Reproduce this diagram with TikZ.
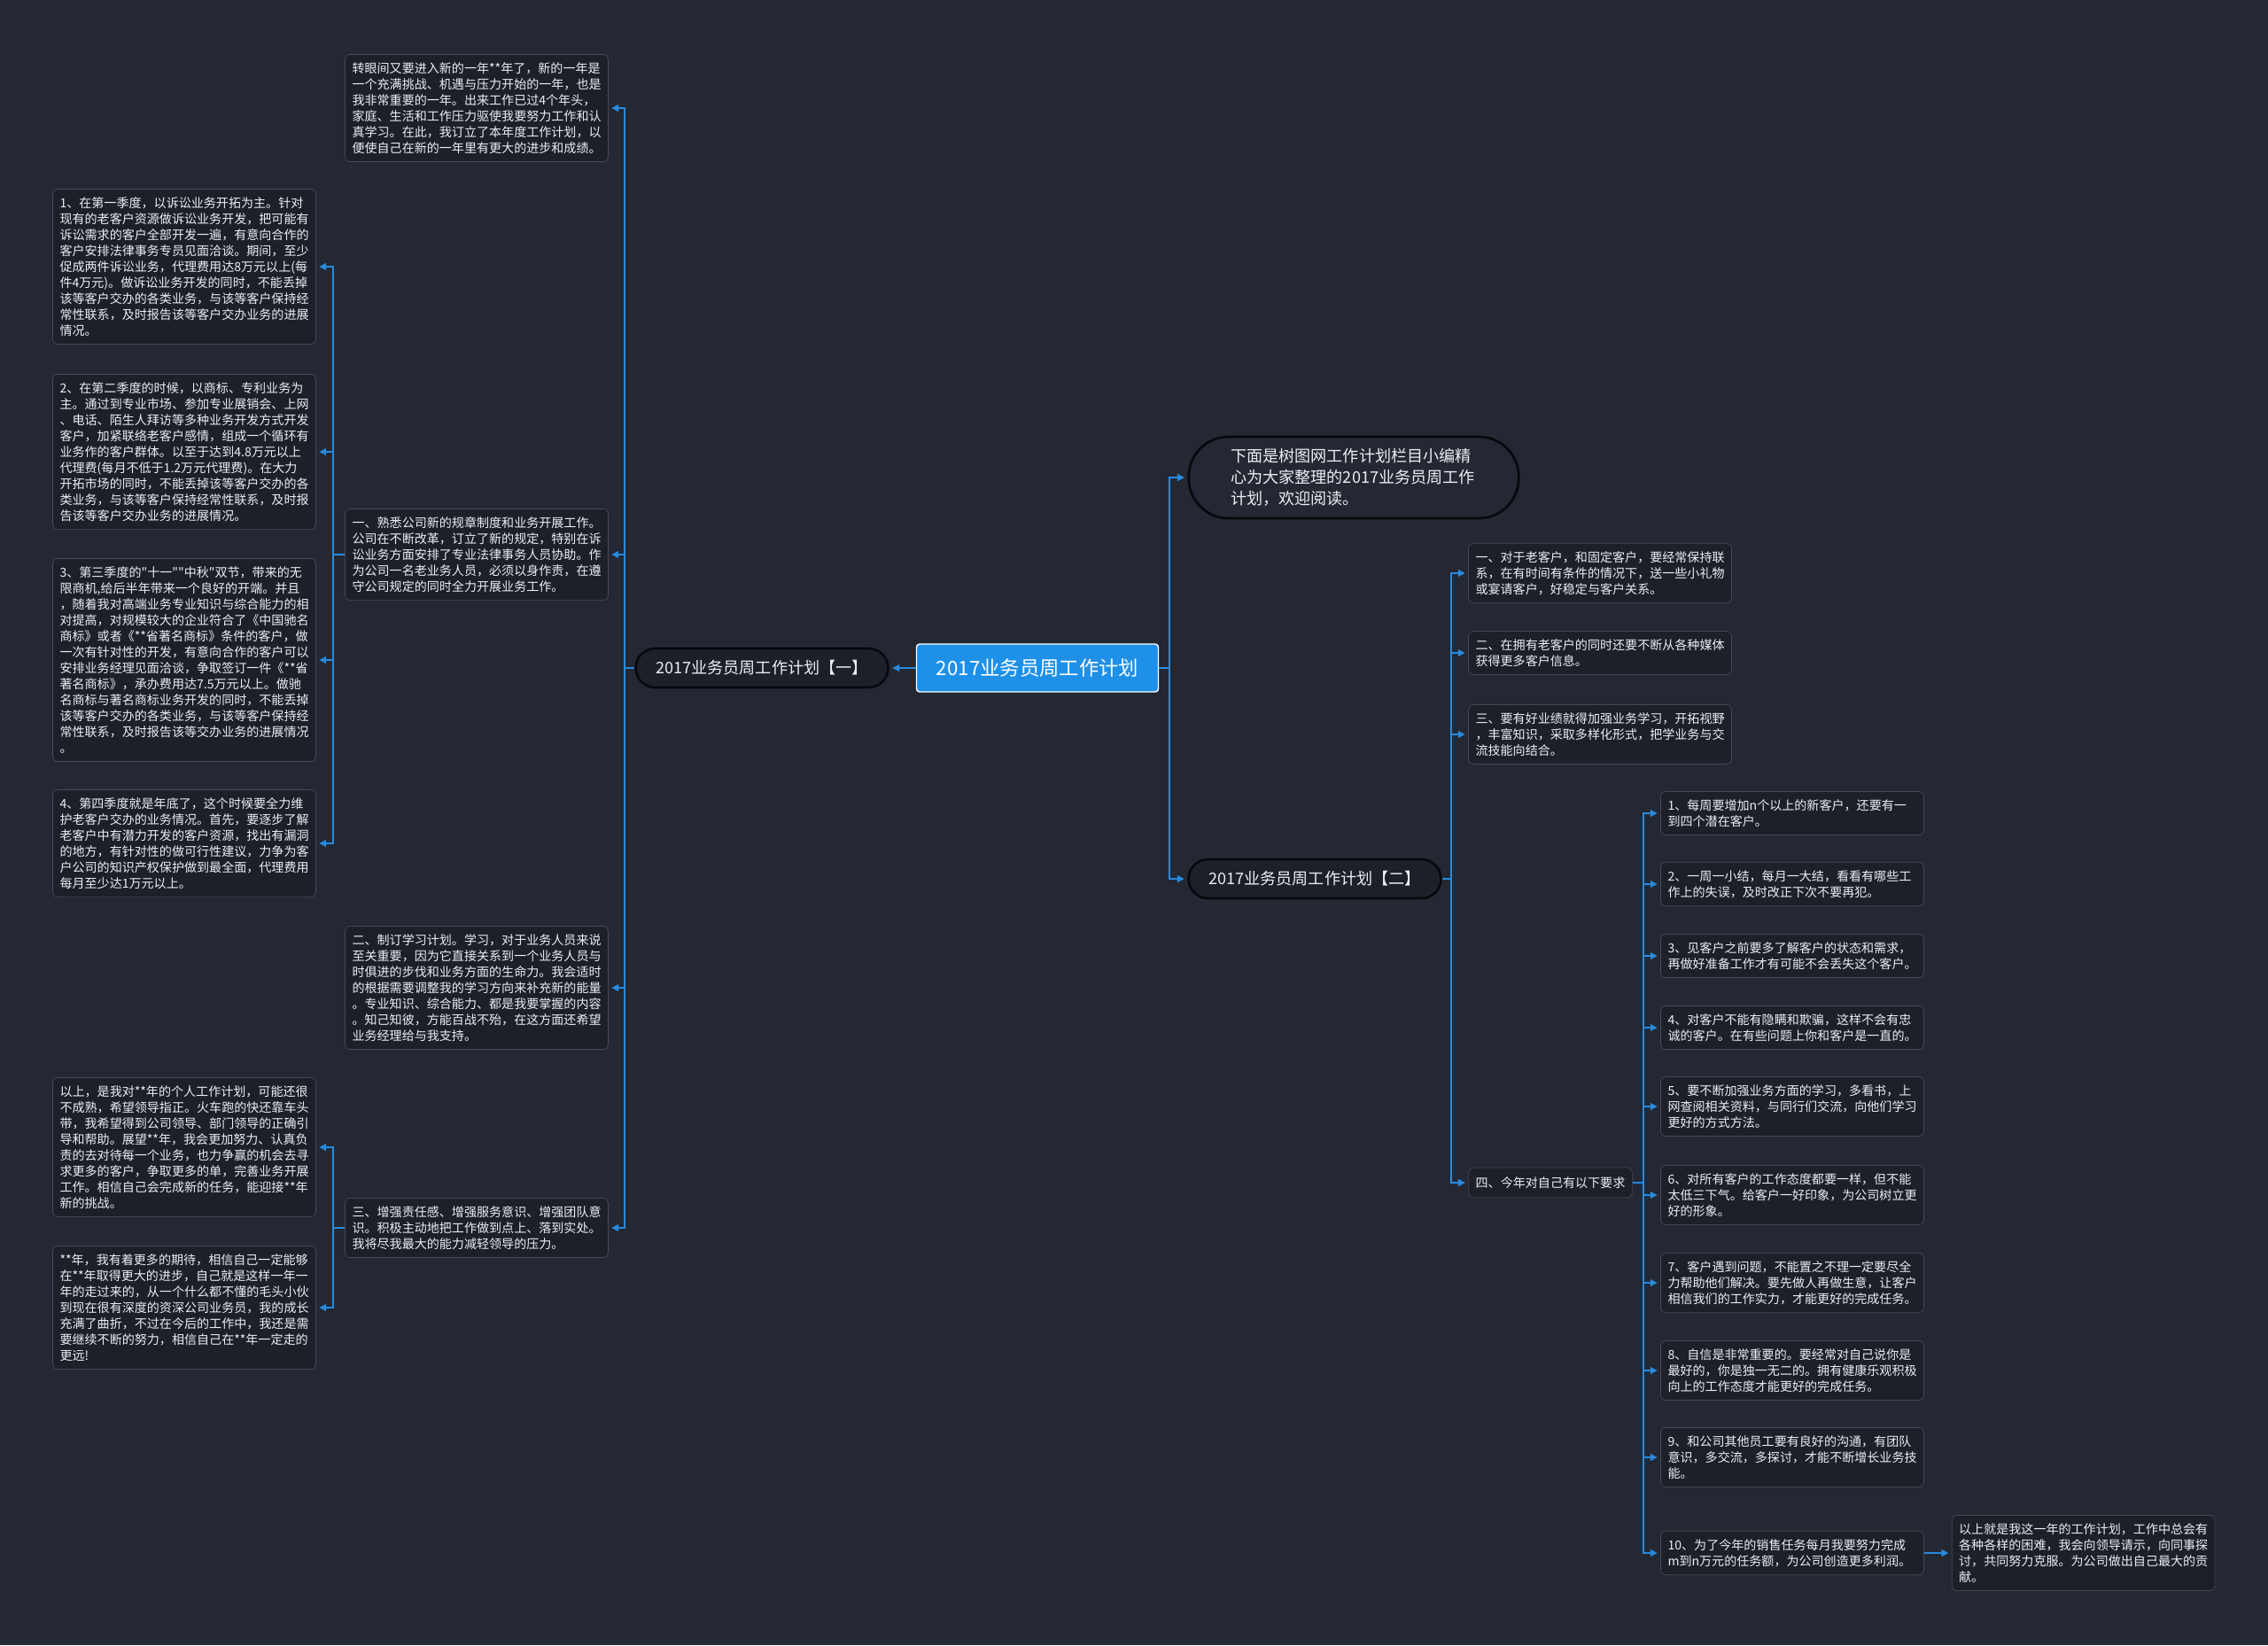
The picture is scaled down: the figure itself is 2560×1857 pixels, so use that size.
\documentclass[tikz,border=0pt]{standalone}
\usepackage{fontspec}
\setmainfont{Noto Sans CJK SC}[Ligatures=TeXOff]
\usetikzlibrary{arrows.meta,positioning}
\definecolor{mbg}{RGB}{36,40,51}
\definecolor{mbox}{RGB}{29,32,41}
\definecolor{mline}{RGB}{70,74,86}
\definecolor{mblue}{RGB}{40,138,222}
\definecolor{mroot}{RGB}{30,144,232}
\definecolor{mtext}{RGB}{236,238,242}
\definecolor{mdark}{RGB}{8,9,12}

\begin{document}
\begin{tikzpicture}[
    x=0.02cm, y=-0.02cm,
    leaf/.style={draw=mline, fill=mbox, rounded corners=3pt, text=mtext, align=left,
                 text width=5.62cm, inner xsep=0.16cm, inner ysep=0.18cm,
                 font=\fontsize{8}{10.25}\selectfont},
    short/.style={leaf, text width=, minimum height=0.68cm},
    branch/.style={draw=mdark, line width=1.5pt, fill=mbox, rounded corners=0.44cm,
                   text=mtext, minimum width=5.7cm, minimum height=0.88cm,
                   font=\fontsize{10.3}{12}\selectfont},
    root/.style={draw=white, line width=0.8pt, fill=mroot, rounded corners=2pt, text=white,
                 minimum width=5.46cm, minimum height=1.08cm, font=\fontsize{12.7}{15}\selectfont},
    note/.style={draw=mdark, line width=1.6pt, fill=mbg, rounded corners=0.9cm, text=mtext,
                 align=left, text width=5.55cm, inner xsep=0.95cm, inner ysep=0.25cm,
                 minimum height=1.84cm, font=\fontsize{10.3}{13.5}\selectfont},
    arr/.style={-{Triangle[length=4.5pt,width=4.5pt]}, mblue, line width=0.9pt, shorten >=2pt},
  ]
    \useasboundingbox (0,0) rectangle (2560,1857);
    \fill[mbg] (0,0) rectangle (2560,1857);

    \node[root] (root) at (1171,754) {2017业务员周工作计划};
    \node[branch] (b1) at (860,754) {2017业务员周工作计划【一】};
    \node[branch] (b2) at (1484,992) {2017业务员周工作计划【二】};
    \node[note] (intro) at (1528,539) {下面是树图网工作计划栏目小编精\\心为大家整理的2017业务员周工作\\计划，欢迎阅读。};

    \coordinate (sL2) at (705,0);
    \coordinate (sL3) at (376,0);
    \coordinate (sR1) at (1320,0);
    \coordinate (sR2) at (1638,0);
    \coordinate (sR3) at (1855,0);

    \node[leaf] (a0) at (538,122) {转眼间又要进入新的一年**年了，新的一年是\\一个充满挑战、机遇与压力开始的一年，也是\\我非常重要的一年。出来工作已过4个年头，\\家庭、生活和工作压力驱使我要努力工作和认\\真学习。在此，我订立了本年度工作计划，以\\便使自己在新的一年里有更大的进步和成绩。};
    \node[leaf] (a1) at (538,626) {一、熟悉公司新的规章制度和业务开展工作。\\公司在不断改革，订立了新的规定，特别在诉\\讼业务方面安排了专业法律事务人员协助。作\\为公司一名老业务人员，必须以身作责，在遵\\守公司规定的同时全力开展业务工作。};
    \node[leaf] (a2) at (538,1115) {二、制订学习计划。学习，对于业务人员来说\\至关重要，因为它直接关系到一个业务人员与\\时俱进的步伐和业务方面的生命力。我会适时\\的根据需要调整我的学习方向来补充新的能量\\。专业知识、综合能力、都是我要掌握的内容\\。知己知彼，方能百战不殆，在这方面还希望\\业务经理给与我支持。};
    \node[leaf] (a3) at (538,1386) {三、增强责任感、增强服务意识、增强团队意\\识。积极主动地把工作做到点上、落到实处。\\我将尽我最大的能力减轻领导的压力。};

    \node[leaf] (q1) at (208,301) {1、在第一季度，以诉讼业务开拓为主。针对\\现有的老客户资源做诉讼业务开发，把可能有\\诉讼需求的客户全部开发一遍，有意向合作的\\客户安排法律事务专员见面洽谈。期间，至少\\促成两件诉讼业务，代理费用达8万元以上(每\\件4万元)。做诉讼业务开发的同时，不能丢掉\\该等客户交办的各类业务，与该等客户保持经\\常性联系，及时报告该等客户交办业务的进展\\情况。};
    \node[leaf] (q2) at (208,510) {2、在第二季度的时候，以商标、专利业务为\\主。通过到专业市场、参加专业展销会、上网\\、电话、陌生人拜访等多种业务开发方式开发\\客户，加紧联络老客户感情，组成一个循环有\\业务作的客户群体。以至于达到4.8万元以上\\代理费(每月不低于1.2万元代理费)。在大力\\开拓市场的同时，不能丢掉该等客户交办的各\\类业务，与该等客户保持经常性联系，及时报\\告该等客户交办业务的进展情况。};
    \node[leaf] (q3) at (208,745) {3、第三季度的"十一""中秋"双节，带来的无\\限商机,给后半年带来一个良好的开端。并且\\，随着我对高端业务专业知识与综合能力的相\\对提高，对规模较大的企业符合了《中国驰名\\商标》或者《**省著名商标》条件的客户，做\\一次有针对性的开发，有意向合作的客户可以\\安排业务经理见面洽谈，争取签订一件《**省\\著名商标》，承办费用达7.5万元以上。做驰\\名商标与著名商标业务开发的同时，不能丢掉\\该等客户交办的各类业务，与该等客户保持经\\常性联系，及时报告该等交办业务的进展情况\\。};
    \node[leaf] (q4) at (208,952) {4、第四季度就是年底了，这个时候要全力维\\护老客户交办的业务情况。首先，要逐步了解\\老客户中有潜力开发的客户资源，找出有漏洞\\的地方，有针对性的做可行性建议，力争为客\\户公司的知识产权保护做到最全面，代理费用\\每月至少达1万元以上。};
    \node[leaf] (r1) at (208,1295) {以上，是我对**年的个人工作计划，可能还很\\不成熟，希望领导指正。火车跑的快还靠车头\\带，我希望得到公司领导、部门领导的正确引\\导和帮助。展望**年，我会更加努力、认真负\\责的去对待每一个业务，也力争赢的机会去寻\\求更多的客户，争取更多的单，完善业务开展\\工作。相信自己会完成新的任务，能迎接**年\\新的挑战。};
    \node[leaf] (r2) at (208,1476) {**年，我有着更多的期待，相信自己一定能够\\在**年取得更大的进步，自己就是这样一年一\\年的走过来的，从一个什么都不懂的毛头小伙\\到现在很有深度的资深公司业务员，我的成长\\充满了曲折，不过在今后的工作中，我还是需\\要继续不断的努力，相信自己在**年一定走的\\更远!};

    \node[leaf] (c1) at (1806,647) {一、对于老客户，和固定客户，要经常保持联\\系，在有时间有条件的情况下，送一些小礼物\\或宴请客户，好稳定与客户关系。};
    \node[leaf] (c2) at (1806,737) {二、在拥有老客户的同时还要不断从各种媒体\\获得更多客户信息。};
    \node[leaf] (c3) at (1806,829) {三、要有好业绩就得加强业务学习，开拓视野\\，丰富知识，采取多样化形式，把学业务与交\\流技能向结合。};
    \node[short] (c4) at (1750,1335) {四、今年对自己有以下要求};

    \node[leaf] (t1) at (2023,918) {1、每周要增加n个以上的新客户，还要有一\\到四个潜在客户。};
    \node[leaf] (t2) at (2023,998) {2、一周一小结，每月一大结，看看有哪些工\\作上的失误，及时改正下次不要再犯。};
    \node[leaf] (t3) at (2023,1079) {3、见客户之前要多了解客户的状态和需求，\\再做好准备工作才有可能不会丢失这个客户。};
    \node[leaf] (t4) at (2023,1160) {4、对客户不能有隐瞒和欺骗，这样不会有忠\\诚的客户。在有些问题上你和客户是一直的。};
    \node[leaf] (t5) at (2023,1249) {5、要不断加强业务方面的学习，多看书，上\\网查阅相关资料，与同行们交流，向他们学习\\更好的方式方法。};
    \node[leaf] (t6) at (2023,1349) {6、对所有客户的工作态度都要一样，但不能\\太低三下气。给客户一好印象，为公司树立更\\好的形象。};
    \node[leaf] (t7) at (2023,1448) {7、客户遇到问题，不能置之不理一定要尽全\\力帮助他们解决。要先做人再做生意，让客户\\相信我们的工作实力，才能更好的完成任务。};
    \node[leaf] (t8) at (2023,1547) {8、自信是非常重要的。要经常对自己说你是\\最好的，你是独一无二的。拥有健康乐观积极\\向上的工作态度才能更好的完成任务。};
    \node[leaf] (t9) at (2023,1645) {9、和公司其他员工要有良好的沟通，有团队\\意识，多交流，多探讨，才能不断增长业务技\\能。};
    \node[leaf] (t10) at (2023,1753) {10、为了今年的销售任务每月我要努力完成\\m到n万元的任务额，为公司创造更多利润。};
    \node[leaf, right=0.62cm of t10] (fin) {以上就是我这一年的工作计划，工作中总会有\\各种各样的困难，我会向领导请示，向同事探\\讨，共同努力克服。为公司做出自己最大的贡\\献。};

    \draw[arr] (root.west) -- (b1.east);
    \draw[arr] (b1.west) -- (b1.west -| sL2) |- (a0.east);
    \draw[arr] (b1.west) -- (b1.west -| sL2) |- (a1.east);
    \draw[arr] (b1.west) -- (b1.west -| sL2) |- (a2.east);
    \draw[arr] (b1.west) -- (b1.west -| sL2) |- (a3.east);
    \draw[arr] (a1.west) -- (a1.west -| sL3) |- (q1.east);
    \draw[arr] (a1.west) -- (a1.west -| sL3) |- (q2.east);
    \draw[arr] (a1.west) -- (a1.west -| sL3) |- (q3.east);
    \draw[arr] (a1.west) -- (a1.west -| sL3) |- (q4.east);
    \draw[arr] (a3.west) -- (a3.west -| sL3) |- (r1.east);
    \draw[arr] (a3.west) -- (a3.west -| sL3) |- (r2.east);

    \draw[arr] (root.east) -- (root.east -| sR1) |- (intro.west);
    \draw[arr] (root.east) -- (root.east -| sR1) |- (b2.west);
    \draw[arr] (b2.east) -- (b2.east -| sR2) |- (c1.west);
    \draw[arr] (b2.east) -- (b2.east -| sR2) |- (c2.west);
    \draw[arr] (b2.east) -- (b2.east -| sR2) |- (c3.west);
    \draw[arr] (b2.east) -- (b2.east -| sR2) |- (c4.west);
    \draw[arr] (c4.east) -- (c4.east -| sR3) |- (t1.west);
    \draw[arr] (c4.east) -- (c4.east -| sR3) |- (t2.west);
    \draw[arr] (c4.east) -- (c4.east -| sR3) |- (t3.west);
    \draw[arr] (c4.east) -- (c4.east -| sR3) |- (t4.west);
    \draw[arr] (c4.east) -- (c4.east -| sR3) |- (t5.west);
    \draw[arr] (c4.east) -- (c4.east -| sR3) |- (t6.west);
    \draw[arr] (c4.east) -- (c4.east -| sR3) |- (t7.west);
    \draw[arr] (c4.east) -- (c4.east -| sR3) |- (t8.west);
    \draw[arr] (c4.east) -- (c4.east -| sR3) |- (t9.west);
    \draw[arr] (c4.east) -- (c4.east -| sR3) |- (t10.west);
    \draw[arr] (t10.east) -- (fin.west);
  \end{tikzpicture}
\end{document}
